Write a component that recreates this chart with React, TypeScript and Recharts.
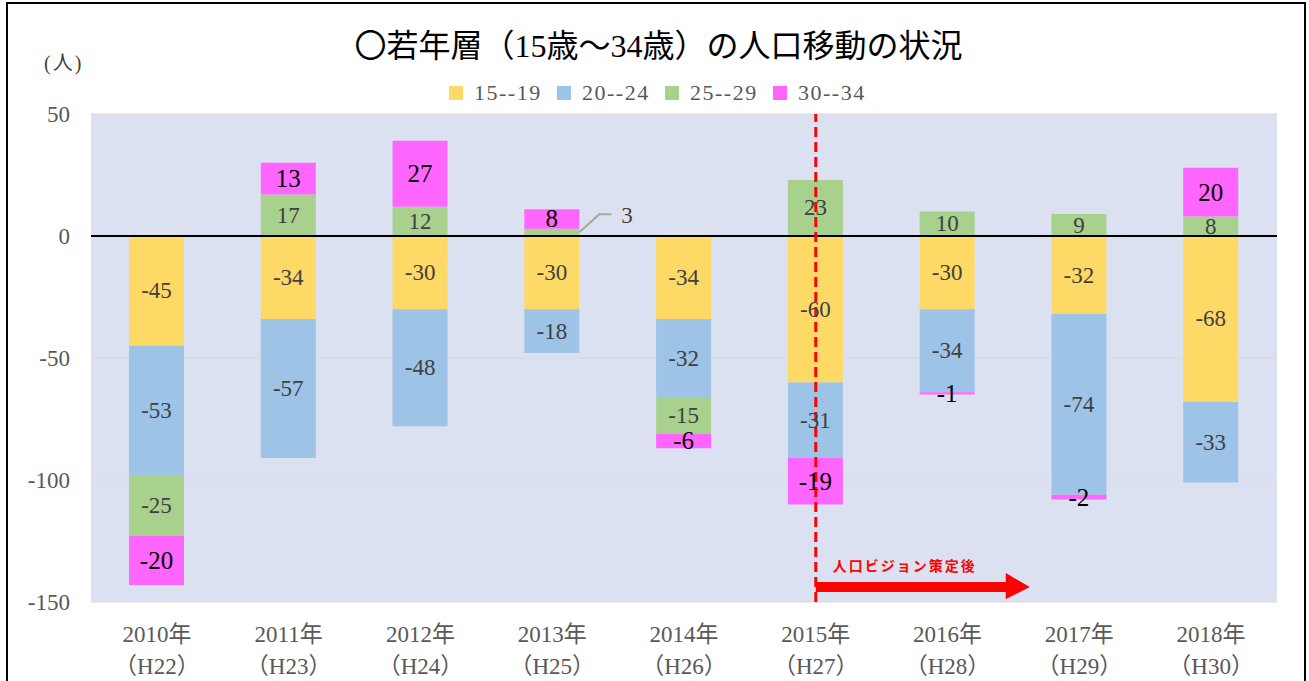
import {
  BarChart,
  Bar,
  XAxis,
  YAxis,
  CartesianGrid,
  ReferenceLine,
  LabelList,
} from "recharts";

const years = ["2010年", "2011年", "2012年", "2013年", "2014年", "2015年", "2016年", "2017年", "2018年"];
const eras = ["（H22）", "（H23）", "（H24）", "（H25）", "（H26）", "（H27）", "（H28）", "（H29）", "（H30）"];

const age15_19 = [-45, -34, -30, -30, -34, -60, -30, -32, -68];
const age20_24 = [-53, -57, -48, -18, -32, -31, -34, -74, -33];
const age25_29 = [-25, 17, 12, 3, -15, 23, 10, 9, 8];
const age30_34 = [-20, 13, 27, 8, -6, -19, -1, -2, 20];

const yTicks = [-150, -100, -50, 0, 50];

const series = [
  { key: "a15", name: "15--19", color: "#FFD966", values: age15_19 },
  { key: "a20", name: "20--24", color: "#9DC3E6", values: age20_24 },
  { key: "a25", name: "25--29", color: "#A9D18E", values: age25_29 },
  { key: "a30", name: "30--34", color: "#FF66FF", values: age30_34 },
];

const chartData = years.map((y, i) => {
  const row: any = { name: y, era: eras[i] };
  series.forEach((s) => {
    row[s.key] = s.values[i];
  });
  return row;
});

const FONT = "'Liberation Serif', 'Noto Sans CJK JP', serif";

const XTick = (props: any) => {
  const { x, y, payload, index } = props;
  return (
    <text textAnchor="middle" fill="#595959" fontSize={23} fontFamily={FONT}>
      <tspan x={x} y={y + 32}>{payload.value}</tspan>
      <tspan x={x} y={y + 64}>{eras[index]}</tspan>
    </text>
  );
};

const makeLabel = (pink: boolean, green: boolean) => (props: any) => {
  const { x, y, width, height, value } = props;
  if (value === undefined || value === null) return null;
  if (green && value > 0 && value < 5) {
    // small value: leader line to the side
    const sx = x + width;
    const sy = y + height / 2;
    return (
      <g>
        <polyline
          points={`${sx},${sy} ${sx + 20},${sy - 18} ${sx + 32},${sy - 18}`}
          fill="none"
          stroke="#a6a6a6"
          strokeWidth={2}
        />
        <text
          x={sx + 42}
          y={sy - 17}
          fill="#404040"
          fontSize={23}
          fontFamily={FONT}
          dominantBaseline="central"
        >
          {value}
        </text>
      </g>
    );
  }
  return (
    <text
      x={x + width / 2}
      y={y + height / 2}
      textAnchor="middle"
      dominantBaseline="central"
      fill={pink ? "#000" : "#404040"}
      fontSize={pink ? 25 : 23}
      fontFamily={FONT}
    >
      {value}
    </text>
  );
};

const ArrowMark = (props: any) => {
  const vb = props.viewBox || {};
  const x = vb.x;
  const bottom = vb.y + vb.height;
  return (
    <g>
      <text
        x={x + 17}
        y={bottom - 31}
        fill="#ff0000"
        fontSize={14}
        fontWeight="bold"
        letterSpacing={2}
        fontFamily="'Noto Sans CJK JP', sans-serif"
      >
        人口ビジョン策定後
      </text>
      <rect x={x} y={bottom - 20} width={192} height={10} fill="#ff0000" />
      <polygon
        points={`${x + 190},${bottom - 29} ${x + 214},${bottom - 15} ${x + 190},${bottom - 3}`}
        fill="#ff0000"
      />
    </g>
  );
};

const App = () => {
  return (
    <div
      style={{
        position: "absolute",
        left: 0,
        top: 0,
        width: 1309,
        height: 681,
        overflow: "hidden",
        background: "#fff",
        fontFamily: FONT,
      }}
    >
      <div
        style={{
          position: "absolute",
          left: 6,
          top: 2,
          width: 1296,
          height: 720,
          border: "2px solid #000",
        }}
      />
      <div
        style={{
          position: "absolute",
          left: 0,
          width: 1309,
          top: 26,
          textAlign: "center",
          fontSize: 32,
          lineHeight: "40px",
          color: "#000",
          paddingLeft: 8,
          boxSizing: "border-box",
        }}
      >
        〇若年層（15歳～34歳）の人口移動の状況
      </div>
      <div
        style={{
          position: "absolute",
          left: 44,
          top: 50,
          fontSize: 20,
          lineHeight: "26px",
          letterSpacing: 2,
          color: "#404040",
        }}
      >
        (人)
      </div>
      <div
        style={{
          position: "absolute",
          left: 449,
          top: 80,
          display: "flex",
          alignItems: "center",
          height: 26,
        }}
      >
        {series.map((s) => (
          <div key={s.key} style={{ display: "flex", alignItems: "center", width: 108 }}>
            <span style={{ width: 14, height: 14, background: s.color, display: "inline-block", marginRight: 11 }} />
            <span style={{ fontSize: 22, letterSpacing: 1.5, color: "#595959" }}>{s.name}</span>
          </div>
        ))}
      </div>
      <div style={{ position: "absolute", left: 0, top: 0 }}>
        <BarChart
          width={1309}
          height={681}
          data={chartData}
          stackOffset="sign"
          barSize={55}
          margin={{ top: 114, right: 32, bottom: 0, left: 0 }}
        >
          <CartesianGrid vertical={false} stroke="#d9d9d9" fill="#DCE1F2" />
          <XAxis
            dataKey="name"
            height={79}
            axisLine={false}
            tickLine={false}
            interval={0}
            tick={<XTick />}
          />
          <YAxis
            width={91}
            domain={[-150, 50]}
            ticks={yTicks}
            axisLine={false}
            tickLine={false}
            tickSize={0}
            tickMargin={21}
            tick={{ fill: "#595959", fontSize: 23, fontFamily: FONT }}
          />
          {series.map((s) => (
            <Bar
              key={s.key}
              dataKey={s.key}
              name={s.name}
              stackId="a"
              fill={s.color}
              isAnimationActive={false}
            >
              <LabelList
                dataKey={s.key}
                content={makeLabel(s.key === "a30", s.key === "a25")}
              />
            </Bar>
          ))}
          <ReferenceLine y={0} stroke="#000" strokeWidth={2} />
          <ReferenceLine
            x="2015年"
            stroke="#ff0000"
            strokeWidth={3}
            strokeDasharray="10 5"
            label={{ content: (p: any) => <ArrowMark {...p} /> }}
          />
        </BarChart>
      </div>
    </div>
  );
};

export default App;
